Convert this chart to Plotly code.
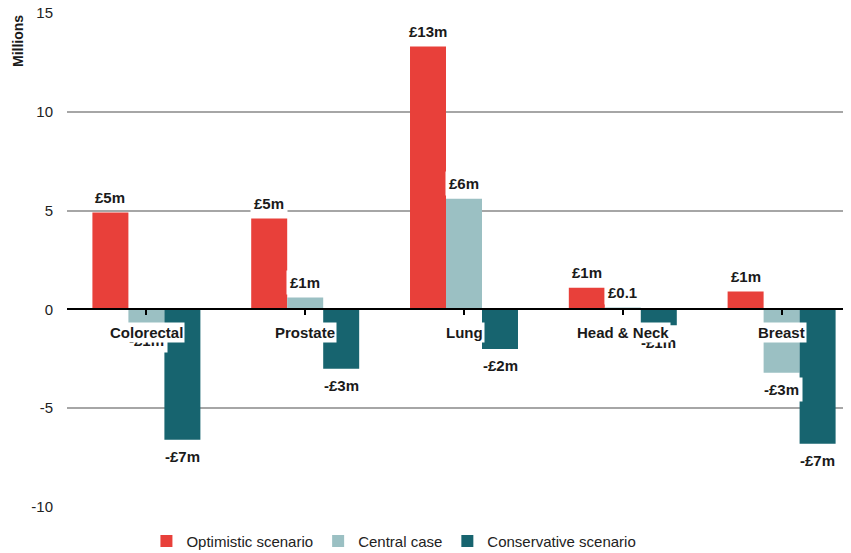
import plotly.graph_objects as go

categories = ["Colorectal", "Prostate", "Lung", "Head & Neck", "Breast"]
series_names = ["Optimistic scenario", "Central case", "Conservative scenario"]
optimistic = [4.9, 4.6, 13.3, 1.1, 0.9]
central = [-0.7, 0.6, 5.6, 0.1, -3.2]
conservative = [-6.6, -3.0, -2.0, -0.8, -6.8]
optimistic_labels = ["£5m", "£5m", "£13m", "£1m", "£1m"]
central_labels = ["-£1m", "£1m", "£6m", "£0.1", "-£3m"]
conservative_labels = ["-£7m", "-£3m", "-£2m", "-£1m", "-£7m"]
y_ticks = [-10, -5, 0, 5, 10, 15]

colors = ["#E8403A", "#9BC0C3", "#17646F"]
FONT = "Liberation Sans, Arial, sans-serif"

series = [optimistic, central, conservative]
labels = [optimistic_labels, central_labels, conservative_labels]

bargap = 0.32
bar_w = (1 - bargap) / 3

fig = go.Figure()
for name, vals, col in zip(series_names, series, colors):
    fig.add_trace(go.Bar(x=list(range(len(categories))), y=vals, name=name,
                         marker=dict(color=col, line=dict(width=0))))

# data labels (white boxes like the original)
for j, (vals, labs) in enumerate(zip(series, labels)):
    for i, (v, t) in enumerate(zip(vals, labs)):
        fig.add_annotation(x=i + (j - 1) * bar_w, y=v, text=f"<b>{t}</b>",
                           showarrow=False, yshift=15 if v >= 0 else -17,
                           bgcolor="white", borderpad=3,
                           font=dict(family=FONT, size=15, color="#1a1a1a"))

# category names sitting just under the zero line
for i, c in enumerate(categories):
    fig.add_annotation(x=i, y=0, text=f"<b>{c}</b>", showarrow=False,
                       yshift=-23, bgcolor="white", borderpad=1,
                       font=dict(family=FONT, size=15, color="#1a1a1a"))

fig.add_annotation(xref="paper", yref="paper", x=-0.0625, y=1.0, text="<b>Millions</b>",
                   textangle=-90, showarrow=False, xanchor="center", yanchor="top",
                   font=dict(family=FONT, size=14, color="#1a1a1a"))

# the page body adds an 8px offset, so the figure is sized/margined to compensate
fig.update_layout(
    width=843, height=545,
    margin=dict(l=59, r=0, t=5, b=46, autoexpand=False),
    paper_bgcolor="white", plot_bgcolor="white",
    barmode="group", bargap=bargap, bargroupgap=0,
    font=dict(family=FONT, size=15, color="#222"),
    showlegend=True,
    legend=dict(orientation="h", x=0.417, y=-0.036, xanchor="center", yanchor="top",
                font=dict(family=FONT, size=15, color="#222"),
                itemwidth=30, tracegroupgap=0),
    xaxis=dict(range=[-0.5, 4.437], tickmode="array",
               tickvals=list(range(len(categories))), ticktext=categories,
               tickson="boundaries", ticks="outside", ticklen=5, tickwidth=2,
               tickcolor="black", showticklabels=False, showgrid=False,
               showline=True, linecolor="black", linewidth=2,
               anchor="free", position=0.4, layer="above traces", zeroline=False),
    yaxis=dict(range=[-10, 15], tickmode="array", tickvals=y_ticks,
               ticktext=[str(t) for t in y_ticks], showgrid=True, gridcolor="#a6a6a6",
               gridwidth=2, zeroline=False, showline=False, ticks="",
               ticklabeloverflow="allow",
               tickfont=dict(family=FONT, size=15, color="#222"), ticklabelstandoff=13,
               domain=[0, 1]),
)

fig.write_html("out.html")
